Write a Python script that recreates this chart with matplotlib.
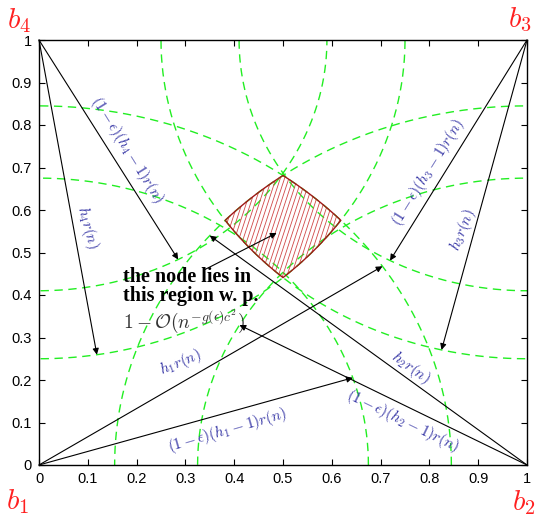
import numpy as np
import matplotlib.pyplot as plt
from matplotlib.patches import Polygon

plt.rcParams['mathtext.fontset'] = 'cm'
plt.rcParams['font.family'] = ['Liberation Sans', 'DejaVu Sans']

# anchors at the corners of the unit square
anchor_x = [0, 1, 1, 0]
anchor_y = [0, 0, 1, 1]
anchor_names = ['$b_1$', '$b_2$', '$b_3$', '$b_4$']

# annulus radii: inner (1-eps)(h_i-1)r(n), outer h_i r(n)
r_inner = [0.675, 0.675, 0.59, 0.59]
r_outer = [0.845, 0.845, 0.75, 0.75]

# arrow directions (degrees) from each anchor
inner_angle = [17.7, 150.8, 241.6, 298.9]
outer_angle = [33.6, 140.3, 256.5, 279.1]

# arc labels: text, x, y, rotation
inner_labels = [r'$(1-\epsilon)(h_1-1)r(n)$', r'$(1-\epsilon)(h_2-1)r(n)$',
                r'$(1-\epsilon)(h_3-1)r(n)$', r'$(1-\epsilon)(h_4-1)r(n)$']
inner_lx = [0.387, 0.746, 0.797, 0.180]
inner_ly = [0.082, 0.104, 0.689, 0.741]
inner_rot = [16, -26, 58, -58]
outer_labels = [r'$h_1r(n)$', r'$h_2r(n)$', r'$h_3r(n)$', r'$h_4r(n)$']
outer_lx = [0.289, 0.762, 0.869, 0.098]
outer_ly = [0.240, 0.228, 0.553, 0.560]
outer_rot = [22, -36, 68, -75]

ticks = np.arange(0, 1.01, 0.1)
tick_labels = ['0', '0.1', '0.2', '0.3', '0.4', '0.5', '0.6', '0.7', '0.8', '0.9', '1']

green = '#22ee22'
blue = '#3535a5'

fig = plt.figure(figsize=(5.36, 5.16), dpi=100)
ax = fig.add_axes([39/536, 51/516, 488/536, 425/516])

t = np.linspace(0, 2*np.pi, 1441)
for cx, cy, ri, ro in zip(anchor_x, anchor_y, r_inner, r_outer):
    for r in (ri, ro):
        ax.plot(cx + r*np.cos(t), cy + r*np.sin(t), color=green, lw=1,
                linestyle=(0, (6, 4)))

# feasible region = intersection of the outer disks
center = np.array([0.5, 0.56])
phi = np.linspace(0, 2*np.pi, 721)
u = np.stack([np.cos(phi), np.sin(phi)], axis=1)
reach = np.full(len(phi), np.inf)
for cx, cy, ro in zip(anchor_x, anchor_y, r_outer):
    d = center - np.array([cx, cy])
    b = u @ d
    c = d @ d - ro**2
    reach = np.minimum(reach, -b + np.sqrt(b**2 - c))
region = center + u * reach[:, None]
poly = Polygon(region, closed=True, facecolor='none', edgecolor='#a01818', lw=1.0, zorder=3)
ax.add_patch(poly)

# steep hatch lines clipped to the region
slope = 3.5
for x0 in np.arange(-0.2, 1.0, 0.0088):
    yy = np.array([0.4, 0.75])
    line, = ax.plot(x0 + (yy - 0.4)/slope, yy, color='#d04848', lw=0.6, zorder=2)
    line.set_clip_path(poly)

arrow_kw = dict(arrowstyle='-|>', color='k', lw=0.8, mutation_scale=9,
                shrinkA=0, shrinkB=0)
for cx, cy, ri, ro, ai, ao in zip(anchor_x, anchor_y, r_inner, r_outer,
                                  inner_angle, outer_angle):
    for r, a in ((ri, ai), (ro, ao)):
        a = np.deg2rad(a)
        ax.annotate('', xy=(cx + r*np.cos(a), cy + r*np.sin(a)), xytext=(cx, cy),
                    arrowprops=arrow_kw, zorder=4)

for s, x, y, rot in zip(inner_labels, inner_lx, inner_ly, inner_rot):
    ax.text(x, y, s, color=blue, fontsize=11, rotation=rot,
            rotation_mode='anchor', ha='center', va='center')
for s, x, y, rot in zip(outer_labels, outer_lx, outer_ly, outer_rot):
    ax.text(x, y, s, color=blue, fontsize=11, rotation=rot,
            rotation_mode='anchor', ha='center', va='center')

# anchor names outside the box
name_dx = [-0.043, -0.006, -0.014, -0.041]
name_dy = [-0.087, -0.089, 0.047, 0.047]
for cx, cy, s, dx, dy in zip(anchor_x, anchor_y, anchor_names, name_dx, name_dy):
    ax.text(cx + dx, cy + dy, s, color='#ff2020', fontsize=21,
            ha='center', va='center', clip_on=False)

ax.text(0.172, 0.386, 'the node lies in\nthis region w. p.', family='Liberation Serif',
        fontweight='bold', fontsize=14.5, va='baseline', linespacing=0.9)
ax.text(0.172, 0.322, r'$1-\mathcal{O}(n^{-g(\epsilon)c^2})$', color='#333333',
        fontsize=14, va='baseline')
ax.annotate('', xy=(0.487, 0.546), xytext=(0.34, 0.46), arrowprops=arrow_kw, zorder=4)

ax.set_xlim(0, 1)
ax.set_ylim(0, 1)
ax.set_xticks(ticks)
ax.set_xticklabels(tick_labels)
ax.set_yticks(ticks)
ax.set_yticklabels(tick_labels)
ax.tick_params(direction='in', top=True, right=True, length=4, width=0.8,
               labelsize=10.5, pad=5)
for sp in ax.spines.values():
    sp.set_linewidth(1.0)

fig.savefig('out.png', dpi=100)
